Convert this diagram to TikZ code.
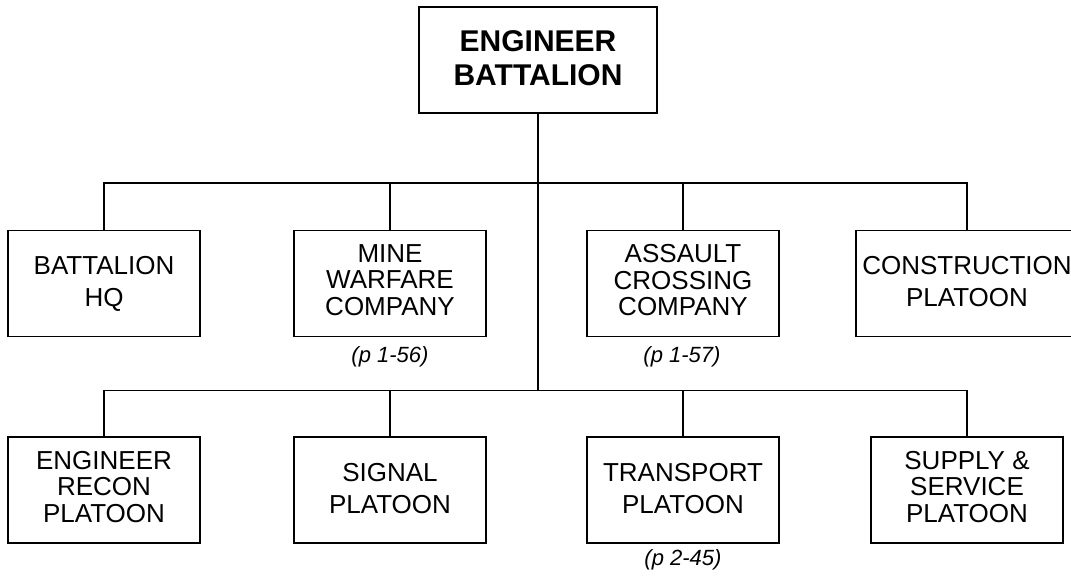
\documentclass[tikz,border=0pt]{standalone}
\usepackage{fontspec}
\setmainfont{Liberation Sans}
\begin{document}
\begin{tikzpicture}[x=1pt,y=-1pt,
  line width=1.6pt,
  unitbox/.style={draw=black, line width=1.6pt, inner sep=0pt, align=center,
     minimum width=192pt, minimum height=106pt},
  twoline/.style={font=\fontsize{26}{32}\selectfont, text depth=4pt},
  threeline/.style={font=\fontsize{26}{26.5}\selectfont, text depth=7pt},
  pageref/.style={font=\fontsize{22}{24}\selectfont\itshape, inner sep=0pt}]
\clip (0,0) rectangle (1071,576);
\fill[white] (0,0) rectangle (1071,576);
% top
\node[unitbox, minimum width=238pt, minimum height=106pt, text depth=4pt,
      font=\fontsize{30}{34}\selectfont\bfseries] (top) at (538,60) {ENGINEER\\BATTALION};
% row 1
\node[unitbox, twoline] (hq) at (104,283.5) {BATTALION\\HQ};
\node[unitbox, threeline] (mine) at (390,283.5) {MINE\\WARFARE\\COMPANY};
\node[unitbox, threeline] (assault) at (683,283.5) {ASSAULT\\CROSSING\\COMPANY};
\node[unitbox, twoline, minimum width=222pt] (constr) at (967,283.5) {CONSTRUCTION\\PLATOON};
% row 2
\node[unitbox, threeline] (recon) at (104,490) {ENGINEER\\RECON\\PLATOON};
\node[unitbox, twoline] (signal) at (390,490) {SIGNAL\\PLATOON};
\node[unitbox, twoline] (transport) at (683,490) {TRANSPORT\\PLATOON};
\node[unitbox, threeline] (supply) at (967,490) {SUPPLY \&\\SERVICE\\PLATOON};
% page refs
\node[pageref] (p156) at (390,357) {(p 1-56)};
\node[pageref] (p157) at (682,357) {(p 1-57)};
\node[pageref] (p245) at (683,560) {(p 2-45)};
% connectors
\coordinate (r1) at (538,183);
\coordinate (r2) at (538,390.5);
\draw (top.south) -- (r2);
\draw (hq.north) -- (hq.north |- r1) -- (constr.north |- r1) -- (constr.north);
\draw (mine.north) -- (mine.north |- r1);
\draw (assault.north) -- (assault.north |- r1);
\draw (recon.north) -- (recon.north |- r2) -- (supply.north |- r2) -- (supply.north);
\draw (signal.north) -- (signal.north |- r2);
\draw (transport.north) -- (transport.north |- r2);
\end{tikzpicture}
\end{document}
